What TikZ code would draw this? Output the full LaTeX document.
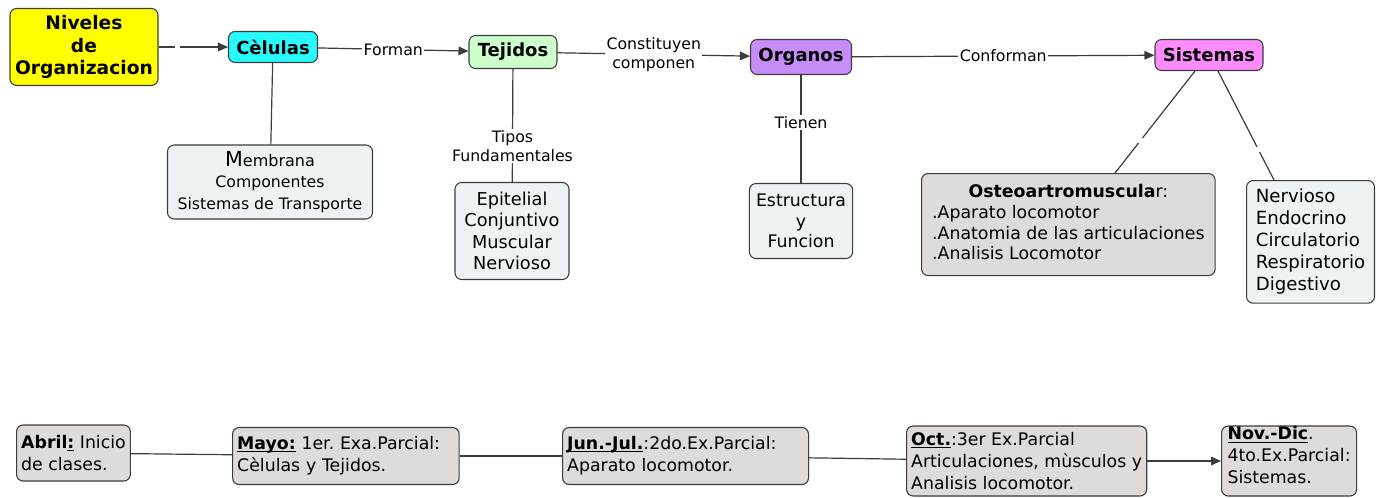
\documentclass[tikz,border=0pt]{standalone}
\usepackage{fontspec}
\setmainfont{DejaVu Sans}
\usepackage{tikz}
\usetikzlibrary{arrows.meta}
\frenchspacing
\definecolor{nivcol}{RGB}{255,255,0}
\definecolor{celcol}{RGB}{40,250,255}
\definecolor{tejcol}{RGB}{204,255,204}
\definecolor{orgcol}{RGB}{198,140,248}
\definecolor{siscol}{RGB}{255,140,255}
\definecolor{infocol}{RGB}{237,243,245}
\definecolor{grcol}{RGB}{222,219,216}
\definecolor{edgecol}{RGB}{60,60,60}
\newcommand{\subr}[1]{\underline{\smash{\textbf{#1}}}}
\tikzset{
  box/.style={draw=edgecol, rounded corners=5pt, line width=0.8pt, align=center, inner sep=2pt},
  concept/.style={box, font=\bfseries\fontsize{13.5}{16}\selectfont},
  info/.style={box, fill=infocol},
  fecha/.style={box, fill=grcol, align=left, inner xsep=3.5pt, inner ysep=3pt, anchor=west, font=\fontsize{13}{16.5}\selectfont},
  link/.style={draw=edgecol, line width=0.9pt},
  arr/.style={link, -{Triangle[length=7.5pt,width=6.5pt]}},
  lbl/.style={fill=white, inner sep=1pt, align=center, font=\fontsize{11.8}{14}\selectfont},
  hueco/.style={fill=white, inner sep=0pt, minimum size=4pt}
}
\begin{document}
\begin{tikzpicture}[x=0.75pt,y=-0.75pt]
\useasboundingbox (0,0) rectangle (1376,497);
\node[concept, fill=nivcol, minimum width=111pt, minimum height=57.75pt, font=\bfseries\fontsize{14}{17}\selectfont] (niv) at (84,47) {Niveles\\de\\Organizacion};
\node[concept, fill=celcol, minimum width=66.75pt, minimum height=23.25pt] (cel) at (273,47) {Cèlulas};
\node[concept, fill=tejcol, minimum width=66pt, minimum height=24.75pt] (tej) at (513,52) {Tejidos};
\node[concept, fill=orgcol, minimum width=75.75pt, minimum height=26.25pt] (org) at (801,57) {Organos};
\node[concept, fill=siscol, minimum width=81pt, minimum height=23.25pt] (sis) at (1209,55) {Sistemas};
% detalles
\node[info, minimum width=153.75pt, minimum height=55.5pt, font=\fontsize{11.8}{16}\selectfont] (mem) at (270,182) {{\fontsize{15.5}{16}\selectfont M}{\fontsize{12}{16}\selectfont embrana}\\Componentes\\Sistemas de Transporte};
\node[info, minimum width=85.5pt, minimum height=72.75pt, font=\fontsize{13.3}{16}\selectfont] (epi) at (512,231) {Epitelial\\Conjuntivo\\Muscular\\Nervioso};
\node[info, inner xsep=5pt, minimum height=56.25pt, font=\fontsize{13}{15.5}\selectfont] (est) at (801,221) {Estructura\\y\\Funcion};
\node[box, fill=grcol, anchor=north west, inner xsep=8pt, minimum height=76.5pt, align=left, font=\fontsize{13}{15.5}\selectfont] (ost) at (921,173) {\begin{tabular}{@{}l@{}}\multicolumn{1}{@{}c@{}}{\textbf{Osteoartromuscula}r:}\\.Aparato locomotor\\.Anatomia de las articulaciones\\.Analisis Locomotor\end{tabular}};
\node[info, anchor=north west, inner xsep=7pt, minimum height=92pt, align=left, font=\fontsize{13.6}{16.5}\selectfont] (ner) at (1246,180) {Nervioso\\Endocrino\\Circulatorio\\Respiratorio\\Digestivo};
% calendario
\node[fecha, minimum height=42pt] (abr) at (16,453) {\textbf{Abril}\subr{:} Inicio\\de clases.};
\node[fecha, text width=163pt, minimum height=42.75pt] (may) at (232,456) {\subr{Mayo:} 1er. Exa.Parcial:\\Cèlulas y Tejidos.};
\node[fecha, text width=177.5pt, minimum height=42.75pt] (jun) at (562,456) {\subr{Jun.-Jul.}:2do.Ex.Parcial:\\Aparato locomotor.};
\node[fecha, minimum height=52.5pt] (oct) at (906,461) {\subr{Oct.}:3er Ex.Parcial\\Articulaciones, mùsculos y\\Analisis locomotor.};
\node[fecha, inner xsep=4.5pt, minimum height=52.5pt] (nov) at (1221,461) {\subr{Nov.-Dic}.\\4to.Ex.Parcial:\\Sistemas.};
% enlaces
\draw[arr] (niv) -- node[hueco, pos=0.27] {} (cel);
\draw[arr] (cel) -- node[lbl] {Forman} (tej);
\draw[arr] (tej) -- node[lbl] {Constituyen\\componen} (org);
\draw[arr] (org) -- node[lbl] {Conforman} (sis);
\draw[link] (cel) -- (mem);
\draw[link] (tej) -- node[lbl, pos=0.68] {Tipos\\Fundamentales} (epi);
\draw[link] (org) -- node[lbl, pos=0.44] {Tienen} (est);
\draw[link] ([xshift=-10.5pt]sis.south) -- node[hueco, pos=0.68] {} ([xshift=145.5pt]ost.north west);
\draw[link] ([xshift=6.75pt]sis.south) -- node[hueco, pos=0.72] {} ([xshift=21pt]ner.north west);
\draw[link] (abr) -- (may);
\draw[link] (may) -- (jun);
\draw[link] (jun) -- (oct);
\draw[arr] (oct) -- (nov);
\end{tikzpicture}
\end{document}
